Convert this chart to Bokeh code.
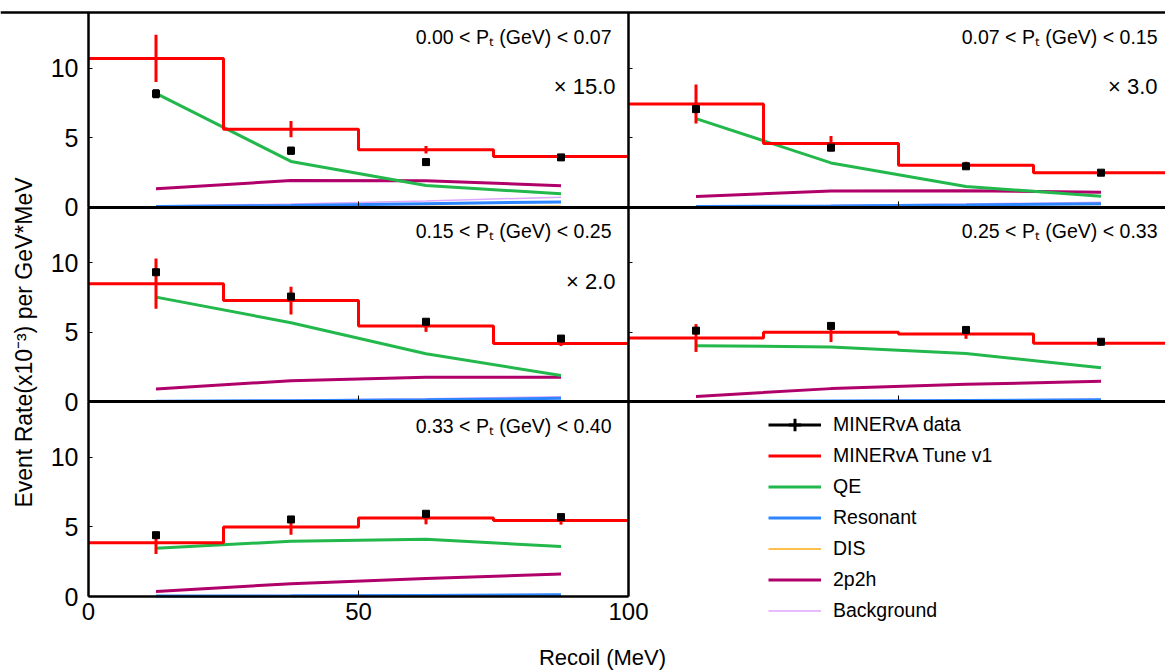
import numpy as np
from bokeh.plotting import figure
from bokeh.models import (Range1d, LinearAxis, FixedTicker, Span, Label, Legend,
                          LegendItem, ColumnDataSource, Whisker, TeeHead)
from bokeh.embed import file_html
from bokeh.resources import INLINE

# ---------------- data ----------------
bin_edges = [0, 25, 50, 75, 100]
bin_centers = [12.5, 37.5, 62.5, 87.5]
x_ticks = [0, 50, 100]
y_ticks = [0, 5, 10]

pt_labels = ["0.00 < Pₜ (GeV) < 0.07", "0.07 < Pₜ (GeV) < 0.15",
             "0.15 < Pₜ (GeV) < 0.25", "0.25 < Pₜ (GeV) < 0.33",
             "0.33 < Pₜ (GeV) < 0.40"]
scale_labels = ["× 15.0", "× 3.0", "× 2.0", "", ""]

data_vals = [[8.16, 4.06, 3.24, 3.58],
             [7.05, 4.28, 2.94, 2.48],
             [9.32, 7.57, 5.76, 4.55],
             [5.12, 5.46, 5.17, 4.32],
             [4.41, 5.54, 5.95, 5.71]]
data_err = [[0.25, 0.22, 0.18, 0.18],
            [0.12, 0.10, 0.08, 0.08],
            [0.12, 0.10, 0.08, 0.08],
            [0.10, 0.10, 0.08, 0.08],
            [0.10, 0.10, 0.08, 0.08]]

tune_vals = [[10.70, 5.61, 4.13, 3.65],
             [7.42, 4.57, 3.01, 2.48],
             [8.50, 7.28, 5.45, 4.19],
             [4.59, 5.00, 4.88, 4.22],
             [3.86, 4.99, 5.64, 5.47]]
tune_err = [[1.70, 0.58, 0.27, 0.12],
            [1.40, 0.55, 0.25, 0.05],
            [1.80, 1.00, 0.42, 0.18],
            [1.00, 0.70, 0.35, 0.18],
            [0.80, 0.55, 0.45, 0.30]]

qe_vals = [[8.18, 3.29, 1.56, 0.96],
           [6.37, 3.18, 1.49, 0.79],
           [7.53, 5.69, 3.46, 1.89],
           [4.03, 3.95, 3.47, 2.45],
           [3.47, 3.97, 4.12, 3.59]]
res_vals = [[0.05, 0.12, 0.25, 0.38],
            [0.04, 0.08, 0.15, 0.25],
            [0.04, 0.08, 0.15, 0.25],
            [0.03, 0.06, 0.10, 0.15],
            [0.03, 0.05, 0.08, 0.12]]
dis_vals = [[0.01, 0.02, 0.04, 0.06],
            [0.01, 0.02, 0.03, 0.04],
            [0.01, 0.02, 0.03, 0.05],
            [0.01, 0.01, 0.02, 0.03],
            [0.01, 0.01, 0.02, 0.03]]
mec_vals = [[1.32, 1.92, 1.90, 1.54],
            [0.77, 1.16, 1.18, 1.08],
            [0.92, 1.52, 1.76, 1.76],
            [0.39, 0.95, 1.26, 1.48],
            [0.36, 0.92, 1.30, 1.62]]
bkg_vals = [[0.08, 0.22, 0.45, 0.72],
            [0.06, 0.12, 0.22, 0.36],
            [0.06, 0.12, 0.22, 0.36],
            [0.05, 0.08, 0.12, 0.18],
            [0.05, 0.07, 0.10, 0.15]]

legend_labels = ["MINERvA data", "MINERvA Tune v1", "QE", "Resonant", "DIS",
                 "2p2h", "Background"]

# ---------------- layout constants (pixels) ----------------
W, H = 1165, 670
X0, XC = 88, 628          # left-column zero, column divider
Y_TOP, Y_BOT = 12, 596    # top of the grid, bottom of the grid
ROW_SPAN = 14.0           # y units per panel
PX_X = (XC - X0) / 100.0
PX_Y = (Y_BOT - Y_TOP) / (3 * ROW_SPAN)

# ---------------- style ----------------
FONT = "Liberation Sans"
RED = "#FF0000"
GREEN = "#22B84C"
BLUE = "#2E86FF"
ORANGE = "#FFAA11"
MAGENTA = "#B0006A"
VIOLET = "#DDA6FF"

r3 = (-(H - Y_BOT) / PX_Y, Y_BOT / PX_Y)
p = figure(width=W, height=H,
           x_range=Range1d(-X0 / PX_X, (W - X0) / PX_X),
           y_range=Range1d(*r3),
           x_axis_type=None, y_axis_type=None,
           toolbar_location=None, output_backend="svg",
           min_border_left=0, min_border_right=0,
           min_border_top=0, min_border_bottom=0)
p.extra_x_ranges = {"xr": Range1d(-XC / PX_X, (W - XC) / PX_X)}
p.extra_y_ranges = {"r1": Range1d(r3[0] - 2 * ROW_SPAN, r3[1] - 2 * ROW_SPAN),
                    "r2": Range1d(r3[0] - ROW_SPAN, r3[1] - ROW_SPAN)}
p.outline_line_color = None
p.background_fill_color = "white"
p.border_fill_color = "white"

# panel -> (x range name, y range name)
panels = [("default", "r1"), ("xr", "r1"),
          ("default", "r2"), ("xr", "r2"),
          ("default", "default")]

legend_rs = {}
for i, (xn, yn) in enumerate(panels):
    kw = dict(x_range_name=xn, y_range_name=yn)
    r_bkg = p.line(bin_centers, bkg_vals[i], line_color=VIOLET, line_width=1.5, **kw)
    r_dis = p.line(bin_centers, dis_vals[i], line_color=ORANGE, line_width=1.5, **kw)
    r_res = p.line(bin_centers, res_vals[i], line_color=BLUE, line_width=3, **kw)
    r_mec = p.line(bin_centers, mec_vals[i], line_color=MAGENTA, line_width=3, **kw)
    r_qe = p.line(bin_centers, qe_vals[i], line_color=GREEN, line_width=3, **kw)

    t = np.array(tune_vals[i])
    te = np.array(tune_err[i])
    p.segment(x0=bin_centers, y0=t - te, x1=bin_centers, y1=t + te,
              line_color=RED, line_width=3, **kw)
    r_tune = p.step(bin_edges, list(tune_vals[i]) + [tune_vals[i][-1]], mode="after",
                    line_color=RED, line_width=3, **kw)

    d = np.array(data_vals[i])
    de = np.array(data_err[i])
    src = ColumnDataSource(dict(x=bin_centers, y=d, lo=d - de, hi=d + de))
    w = Whisker(source=src, base="x", lower="lo", upper="hi", dimension="height",
                line_color="black", line_width=2, level="glyph",
                upper_head=TeeHead(size=6, line_width=2, line_color="black"),
                lower_head=TeeHead(size=6, line_width=2, line_color="black"), **kw)
    p.add_layout(w)
    p.scatter("x", "y", source=src, marker="square", size=7, color="black", **kw)

    if i == 0:
        legend_rs = dict(tune=r_tune, qe=r_qe, res=r_res, dis=r_dis, mec=r_mec, bkg=r_bkg)

    # panel labels
    off = -17 if xn == "default" else -11
    p.add_layout(Label(x=100, y=ROW_SPAN, x_offset=off, y_offset=-24, text=pt_labels[i],
                       text_align="right", text_baseline="alphabetic",
                       text_font=FONT, text_font_size="19.5px", text_color="black", **kw))
    if scale_labels[i]:
        off2 = -13 if xn == "default" else -11
        p.add_layout(Label(x=100, y=ROW_SPAN, x_offset=off2, y_offset=-74,
                           text=scale_labels[i],
                           text_align="right", text_baseline="alphabetic",
                           text_font=FONT, text_font_size="22px", text_color="black", **kw))

# ---------------- axes (frames) ----------------
def y_axis(xn, yn, loc, labels=True, ticks=True):
    ax = LinearAxis(x_range_name=xn, y_range_name=yn, fixed_location=loc,
                    bounds=(0, ROW_SPAN),
                    ticker=FixedTicker(ticks=y_ticks), major_tick_in=4, major_tick_out=0,
                    minor_tick_line_color=None, axis_line_width=2.5, axis_line_color="black",
                    major_tick_line_width=1, major_label_standoff=10,
                    major_label_text_font=FONT, major_label_text_font_size="25px",
                    major_label_text_color="black")
    if not labels:
        ax.major_label_text_color = None
    if not ticks:
        ax.major_tick_line_color = None
    p.add_layout(ax, "left")


def x_axis(xn, yn, labels=False, lw=3):
    ax = LinearAxis(x_range_name=xn, y_range_name=yn, fixed_location=0, bounds=(0, 100),
                    ticker=FixedTicker(ticks=x_ticks), major_tick_in=6, major_tick_out=0,
                    minor_tick_line_color=None, axis_line_width=lw, axis_line_color="black",
                    major_tick_line_width=1, major_label_standoff=6,
                    major_label_text_font=FONT, major_label_text_font_size="24px",
                    major_label_text_color="black")
    if not labels:
        ax.major_label_text_color = None
    p.add_layout(ax, "below")


for i, (xn, yn) in enumerate(panels):
    y_axis(xn, yn, 0, labels=(xn == "default"))
    x_axis(xn, yn, labels=(i == 4), lw=2.5 if i == 4 else 3)
# right edge of the bottom-left panel
y_axis("default", "default", 100, labels=False, ticks=False)

p.add_layout(Span(location=ROW_SPAN, dimension="width", y_range_name="r1",
                  line_color="black", line_width=2.5))

# ---------------- axis titles ----------------
p.add_layout(Label(x=(23 - X0) / PX_X, y=(Y_BOT - 342) / PX_Y,
                   text="Event Rate(x10⁻³) per GeV*MeV",
                   angle=np.pi / 2, text_align="center", text_baseline="middle",
                   text_font=FONT, text_font_size="23px", text_color="black"))
p.add_layout(Label(x=(602 - X0) / PX_X, y=(Y_BOT - 657) / PX_Y, text="Recoil (MeV)",
                   text_align="center", text_baseline="middle",
                   text_font=FONT, text_font_size="22px", text_color="black"))

# ---------------- legend ----------------
d_line = p.line([np.nan], [np.nan], line_color="black", line_width=3)
d_cross = p.scatter([np.nan], [np.nan], marker="cross", size=12,
                    line_color="black", line_width=3)
d_dot = p.scatter([np.nan], [np.nan], marker="circle", size=6, color="black")
items = [LegendItem(label=legend_labels[0], renderers=[d_line, d_cross]),
         LegendItem(label=legend_labels[1], renderers=[legend_rs["tune"]]),
         LegendItem(label=legend_labels[2], renderers=[legend_rs["qe"]]),
         LegendItem(label=legend_labels[3], renderers=[legend_rs["res"]]),
         LegendItem(label=legend_labels[4], renderers=[legend_rs["dis"]]),
         LegendItem(label=legend_labels[5], renderers=[legend_rs["mec"]]),
         LegendItem(label=legend_labels[6], renderers=[legend_rs["bkg"]])]
legend = Legend(items=items, location=(768, H - 625.5), margin=0, padding=0, spacing=0,
                glyph_width=53, glyph_height=31, label_height=31, label_standoff=12,
                border_line_color=None, background_fill_alpha=0,
                label_text_font=FONT, label_text_font_size="19.5px",
                label_text_color="black")
p.add_layout(legend)

open("out.html", "w").write(file_html(p, INLINE))
